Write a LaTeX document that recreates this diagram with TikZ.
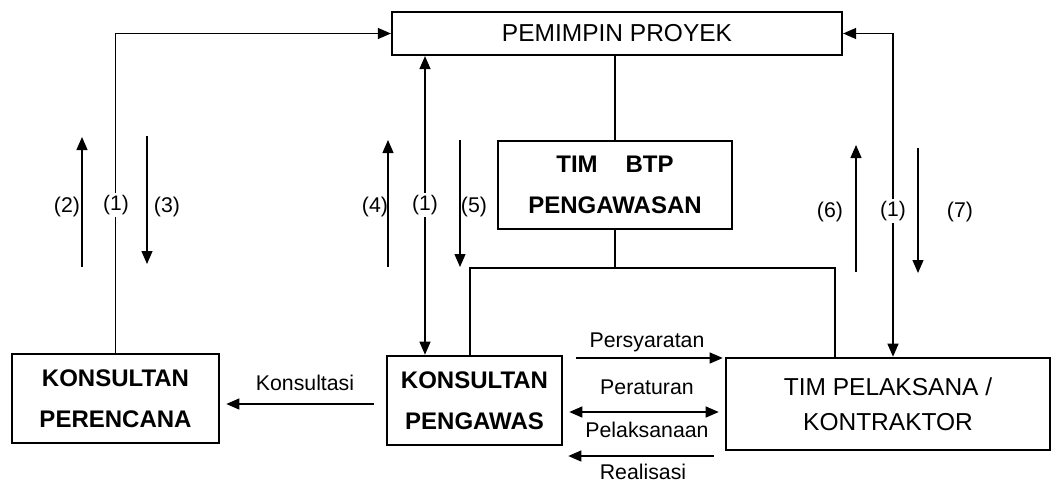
\documentclass[tikz,border=0pt]{standalone}
\usepackage{fontspec}
\setmainfont{Liberation Sans}
\usetikzlibrary{arrows.meta}
\begin{document}
\begin{tikzpicture}[x=1pt,y=-1pt,
  box/.style={draw,line width=2.6pt,inner sep=0pt,align=center},
  bigtxt/.style={font=\fontsize{24.5}{40}\selectfont},
  boldtxt/.style={font=\fontsize{24}{41}\selectfont\bfseries},
  conn/.style={line width=1.2pt},
  tip/.style={-{Triangle[length=13pt,width=11pt]}},
  tips/.style={{Triangle[length=13pt,width=11pt]}-{Triangle[length=13pt,width=11pt]}},
  lbl/.style={font=\fontsize{21.3}{24}\selectfont,inner sep=1pt},
  numlbl/.style={font=\fontsize{21}{24}\selectfont,inner sep=2pt,fill=white}]
\useasboundingbox (0,0) rectangle (1062,485);

% boxes
\node[box,bigtxt,line width=2.2pt,minimum width=450pt,minimum height=43pt] (pp) at (617,33.5) {PEMIMPIN PROYEK};
\node[box,boldtxt,minimum width=234pt,minimum height=88pt] (btp) at (615,185) {TIM\hspace{28pt}BTP\\PENGAWASAN};
\node[box,boldtxt,minimum width=207pt,minimum height=89pt] (kper) at (115.5,398.5) {KONSULTAN\\PERENCANA};
\node[box,boldtxt,minimum width=175pt,minimum height=89pt] (kpg) at (474.5,400.5) {KONSULTAN\\PENGAWAS};
\node[box,font=\fontsize{24.5}{35}\selectfont,minimum width=324pt,minimum height=92pt] (tpl) at (888,404) {TIM PELAKSANA /\\KONTRAKTOR};

% reference levels
\coordinate (yjoin) at (0,268);
\coordinate (ykons) at (0,404);
\coordinate (ysyar) at (0,358);
\coordinate (yatur) at (0,412);
\coordinate (yreal) at (0,456);
\coordinate (xmid) at (425,0);
\coordinate (xjl) at (470,0);
\coordinate (xjr) at (835,0);
\coordinate (xr) at (893,0);

% line of command (1)
\draw[conn,tip] (kper.north) |- (pp.west);
\node[numlbl] (n1a) at (116,205) {(1)};
\draw[conn,tips] (pp.south -| xmid) -- (kpg.north -| xmid);
\node[numlbl] (n1b) at (425,205) {(1)};
\draw[conn,tips] (pp.east) -| (tpl.north -| xr);
\node[numlbl] (n1c) at (893,211) {(1)};

% supervision team
\draw[conn] (pp.south -| btp.north) -- (btp.north);
\draw[conn] (btp.south) -- (btp.south |- yjoin);
\draw[conn] (kpg.north -| xjl) |- (yjoin -| xjr) -- (tpl.north -| xjr);

% numbered reports
\draw[conn,tip] (82,267) -- (82,137);
\node[lbl] (n2) at (67,207) {(2)};
\draw[conn,tip] (147,136) -- (147,264);
\node[lbl] (n3) at (167,207) {(3)};
\draw[conn,tip] (388,267) -- (388,140);
\node[lbl] (n4) at (375,207) {(4)};
\draw[conn,tip] (460,140) -- (460,267);
\node[lbl] (n5) at (474,207) {(5)};
\draw[conn,tip] (856,272) -- (856,145);
\node[lbl] (n6) at (830,212) {(6)};
\draw[conn,tip] (918,148) -- (918,273);
\node[lbl] (n7) at (960,212) {(7)};

% working relations
\draw[conn,tip,shorten <=12pt,shorten >=6pt] (kpg.west |- ykons) -- (kper.east |- ykons);
\node[lbl] (lk) at (305,383) {Konsultasi};
\draw[conn,tip,shorten <=13pt,shorten >=2pt] (kpg.east |- ysyar) -- (tpl.west |- ysyar);
\node[lbl] (ls) at (647,342) {Persyaratan};
\draw[conn,tips,shorten <=6pt,shorten >=6pt] (kpg.east |- yatur) -- (tpl.west |- yatur);
\node[lbl] (lp) at (647,387) {Peraturan};
\node[lbl] (lpl) at (647,430) {Pelaksanaan};
\draw[conn,tip,shorten <=11pt,shorten >=5pt] (tpl.west |- yreal) -- (kpg.east |- yreal);
\node[lbl,anchor=base] (lr) at (643,479) {Realisasi};
\end{tikzpicture}
\end{document}
